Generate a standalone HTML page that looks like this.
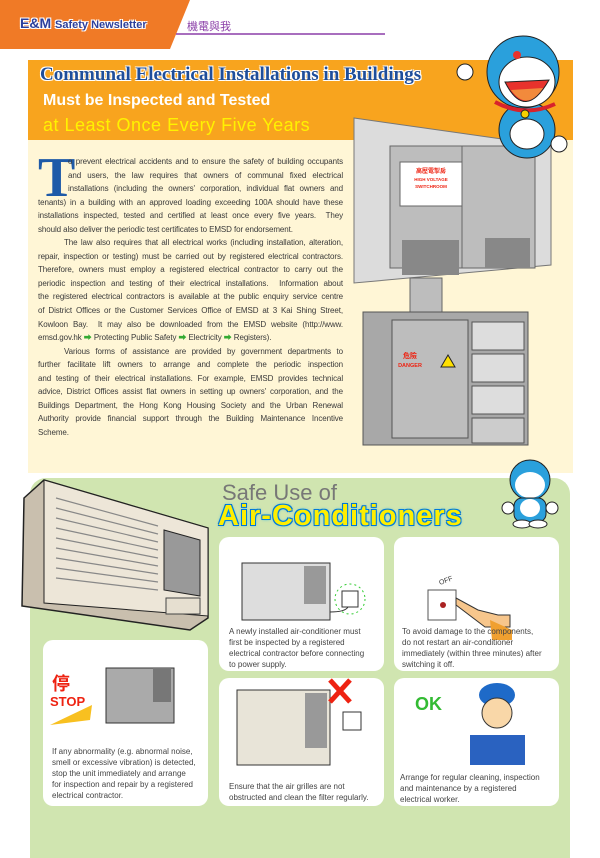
<!DOCTYPE html>
<html><head><meta charset="utf-8"><style>
*{margin:0;padding:0;box-sizing:border-box}
body{width:600px;height:849px;background:#fff;position:relative;overflow:hidden;font-family:"Liberation Sans","Noto Sans CJK TC",sans-serif}
.abs{position:absolute}
.txt{position:absolute;left:38px;top:155px;width:305px;font-size:8px;line-height:13.55px;color:#3a3a3a;letter-spacing:-0.1px}
.txt div{text-align:justify;text-align-last:justify;white-space:nowrap;overflow:visible}
.txt div.l{text-align-last:left}
.card{position:absolute;background:#fff;border-radius:10px}
.cap{position:absolute;font-size:8px;line-height:11px;color:#444}
</style></head><body>
<!-- header -->
<svg class="abs" style="left:0;top:0" width="600" height="50">
<polygon points="0,0 190,0 170,49 0,49" fill="#f07a26"/>
<line x1="176" y1="34" x2="385" y2="34" stroke="#8b3fa8" stroke-width="1.5"/>
</svg>
<div class="abs" style="left:20px;top:15px;font-size:14px;font-weight:bold;color:#2c3f9c;text-shadow:1px 1px 0 #fff,-1px -1px 0 #fff,1px -1px 0 #fff,-1px 1px 0 #fff">E&amp;M <span style="font-size:11px">Safety Newsletter</span></div>
<div class="abs" style="left:187px;top:18px;font-size:11px;color:#8b3fa8">機電與我</div>
<!-- cream area -->
<div class="abs" style="left:28px;top:60px;width:545px;height:413px;background:#fff6d6"></div>
<div class="abs" style="left:28px;top:60px;width:545px;height:80px;background:#f8a41e"></div>
<div class="abs" style="left:40px;top:64px;font-family:'Liberation Serif',serif;font-weight:bold;font-size:19px;color:#1f4e9a;text-shadow:1px 1px 0 #fff,-1px -1px 0 #fff,1px -1px 0 #fff,-1px 1px 0 #fff">Communal Electrical Installations in Buildings</div>
<div class="abs" style="left:43px;top:92px;font-weight:bold;font-size:16px;color:#fff">Must be Inspected and Tested</div>
<div class="abs" style="left:43px;top:115px;font-size:18px;color:#fff200;letter-spacing:0.5px">at Least Once Every Five Years</div>
<!-- switchroom illustration -->
<svg class="abs" style="left:350px;top:110px" width="230" height="345">
<polygon points="4,8 201,36 201,155 4,173" fill="#dcdcdc" stroke="#777"/>
<rect x="40" y="36" width="145" height="122" fill="#bdbdbd" stroke="#666"/>
<line x1="112" y1="36" x2="112" y2="158" stroke="#666"/>
<rect x="50" y="52" width="62" height="44" fill="#fff" stroke="#666"/>
<text x="81" y="63" font-size="6" fill="#e21" text-anchor="middle" font-weight="bold">高壓電掣房</text>
<text x="81" y="71" font-size="4.5" fill="#e21" text-anchor="middle" font-weight="bold">HIGH VOLTAGE</text>
<text x="81" y="78" font-size="4.5" fill="#e21" text-anchor="middle" font-weight="bold">SWITCHROOM</text>
<rect x="52" y="130" width="57" height="35" fill="#888"/>
<rect x="135" y="128" width="45" height="30" fill="#888"/>
<rect x="60" y="168" width="32" height="34" fill="#bdbdbd" stroke="#666"/>
<rect x="13" y="202" width="165" height="133" fill="#a8a8a8" stroke="#555"/>
<rect x="42" y="210" width="76" height="118" fill="#bdbdbd" stroke="#555"/>
<rect x="122" y="212" width="52" height="28" fill="#ddd" stroke="#555"/>
<rect x="122" y="244" width="52" height="28" fill="#ddd" stroke="#555"/>
<rect x="122" y="276" width="52" height="28" fill="#ddd" stroke="#555"/>
<rect x="122" y="308" width="52" height="25" fill="#ccc" stroke="#555"/>
<text x="60" y="248" font-size="7" fill="#e21" text-anchor="middle" font-weight="bold">危險</text>
<text x="60" y="257" font-size="5.5" fill="#e21" text-anchor="middle" font-weight="bold">DANGER</text>
<polygon points="98,245 105,257 91,257" fill="#ffe000" stroke="#222"/>
</svg>
<!-- doraemon top -->
<svg class="abs" style="left:455px;top:30px" width="120" height="130">
<ellipse cx="72" cy="100" rx="28" ry="28" fill="#2aa0dc" stroke="#222"/>
<ellipse cx="72" cy="104" rx="17" ry="15" fill="#fff" stroke="#222"/>
<circle cx="68" cy="42" r="36" fill="#2aa0dc" stroke="#222"/>
<ellipse cx="72" cy="52" rx="28" ry="25" fill="#fff" stroke="#222"/>
<path d="M50 52 Q70 92 94 50 Z" fill="#e8322c" stroke="#222"/>
<path d="M56 60 Q72 82 88 58 Z" fill="#f28a3c"/>
<circle cx="62" cy="25" r="4" fill="#e8322c"/>
<path d="M40 72 Q70 88 100 74" stroke="#d8222c" stroke-width="4" fill="none"/>
<circle cx="70" cy="84" r="4" fill="#f5d000" stroke="#222"/>
<circle cx="10" cy="42" r="8" fill="#fff" stroke="#222"/>
<circle cx="104" cy="114" r="8" fill="#fff" stroke="#222"/>
</svg>
<!-- body text -->
<div class="abs" style="left:38px;top:157px;width:24px;height:41px;font-family:'Liberation Serif',serif;font-size:56px;line-height:42px;color:#1e5aa8;font-weight:bold">T</div>
<div class="txt">
<div style="padding-left:30px">o prevent electrical accidents and to ensure the safety of building occupants</div>
<div style="padding-left:30px">and users, the law requires that owners of communal fixed electrical</div>
<div style="padding-left:30px">installations (including the owners' corporation, individual flat owners and</div>
<div>tenants) in a building with an approved loading exceeding 100A should have these</div>
<div>installations inspected, tested and certified at least once every five years.&nbsp; They</div>
<div class="l">should also deliver the periodic test certificates to EMSD for endorsement.</div>
<div style="padding-left:26px">The law also requires that all electrical works (including installation, alteration,</div>
<div>repair, inspection or testing) must be carried out by registered electrical contractors.</div>
<div>Therefore, owners must employ a registered electrical contractor to carry out the</div>
<div>periodic inspection and testing of their electrical installations.&nbsp; Information about</div>
<div>the registered electrical contractors is available at the public enquiry service centre</div>
<div>of District Offices or the Customer Services Office of EMSD at 3 Kai Shing Street,</div>
<div>Kowloon Bay.&nbsp; It may also be downloaded from the EMSD website (http://www.</div>
<div class="l">emsd.gov.hk <span style="color:#3a3">➡</span> Protecting Public Safety <span style="color:#3a3">➡</span> Electricity <span style="color:#3a3">➡</span> Registers).</div>
<div style="padding-left:26px">Various forms of assistance are provided by government departments to</div>
<div>further facilitate lift owners to arrange and complete the periodic inspection</div>
<div>and testing of their electrical installations. For example, EMSD provides technical</div>
<div>advice, District Offices assist flat owners in setting up owners' corporation, and the</div>
<div>Buildings Department, the Hong Kong Housing Society and the Urban Renewal</div>
<div>Authority provide financial support through the Building Maintenance Incentive</div>
<div class="l">Scheme.</div>
</div>
<!-- green area -->
<div class="abs" style="left:30px;top:478px;width:540px;height:380px;background:#d0e5b0;border-radius:16px 16px 0 0"></div>
<!-- big AC -->
<svg class="abs" style="left:18px;top:468px" width="200" height="165">
<polygon points="6,30 26,12 190,60 190,150 172,162 4,138" fill="#c9bfae" stroke="#222" stroke-width="1.5"/>
<polygon points="26,12 190,60 190,148 26,135" fill="#ede6d8" stroke="#222"/>
<g stroke="#888" stroke-width="1.2">
<line x1="38" y1="30" x2="140" y2="58"/><line x1="38" y1="40" x2="140" y2="66"/><line x1="38" y1="50" x2="140" y2="74"/><line x1="38" y1="60" x2="140" y2="82"/><line x1="38" y1="70" x2="140" y2="90"/><line x1="38" y1="80" x2="140" y2="98"/><line x1="38" y1="90" x2="140" y2="106"/><line x1="38" y1="100" x2="140" y2="114"/><line x1="38" y1="110" x2="140" y2="122"/></g>
<polygon points="146,62 182,72 182,128 146,122" fill="#999" stroke="#222"/>
<rect x="148" y="130" width="34" height="16" fill="#e6dfd0" stroke="#444"/>
</svg>
<div class="abs" style="left:222px;top:480px;font-size:22px;color:#777">Safe Use of</div>
<div class="abs" style="left:218px;top:500px;font-size:29px;font-weight:bold;color:#ffee00;letter-spacing:1px;text-shadow:0 0 3px #0af,1px 1px 0 #06c,-1px -1px 0 #06c,1px -1px 0 #06c,-1px 1px 0 #06c">Air-Conditioners</div>
<!-- small doraemon -->
<svg class="abs" style="left:500px;top:458px" width="60" height="72">
<circle cx="30" cy="22" r="20" fill="#2aa0dc" stroke="#222"/>
<ellipse cx="30" cy="27" rx="15" ry="13" fill="#fff"/>
<rect x="14" y="40" width="32" height="24" rx="8" fill="#2aa0dc" stroke="#222"/>
<ellipse cx="30" cy="50" rx="10" ry="9" fill="#fff"/>
<circle cx="8" cy="50" r="6" fill="#fff" stroke="#222"/><circle cx="52" cy="50" r="6" fill="#fff" stroke="#222"/>
<ellipse cx="22" cy="66" rx="9" ry="4" fill="#fff" stroke="#222"/><ellipse cx="38" cy="66" rx="9" ry="4" fill="#fff" stroke="#222"/>
</svg>
<!-- cards -->
<div class="card" style="left:219px;top:537px;width:165px;height:134px"></div>
<div class="card" style="left:394px;top:537px;width:165px;height:134px"></div>
<div class="card" style="left:43px;top:640px;width:165px;height:166px"></div>
<div class="card" style="left:219px;top:678px;width:165px;height:128px"></div>
<div class="card" style="left:394px;top:678px;width:165px;height:128px"></div>
<svg class="abs" style="left:0;top:0" width="600" height="849">
<rect x="242" y="563" width="88" height="57" fill="#ddd" stroke="#333"/><rect x="304" y="566" width="22" height="38" fill="#999"/>
<rect x="342" y="591" width="16" height="16" fill="#fff" stroke="#333"/><circle cx="350" cy="599" r="15" fill="none" stroke="#3c3" stroke-dasharray="2 3"/>
<path d="M330 612 Q345 612 348 607" stroke="#333" fill="none"/>
<text x="440" y="585" font-size="7" fill="#333" transform="rotate(-20 440 585)">OFF</text>
<rect x="428" y="590" width="28" height="30" fill="#fff" stroke="#555"/><circle cx="443" cy="605" r="3" fill="#a22"/>
<path d="M456 598 l22 12 l20 5 l12 0 l0 12 l-25 0 l-29 -22 z" fill="#f7c68c" stroke="#333"/>
<path d="M490 620 l22 10 v10 h-20z" fill="#f0a030"/>
<rect x="106" y="668" width="68" height="55" fill="#aaa" stroke="#333"/><rect x="153" y="668" width="18" height="34" fill="#777"/>
<text x="52" y="690" font-size="18" fill="#e21" font-weight="bold">停</text>
<text x="50" y="706" font-size="13" fill="#e21" font-weight="bold">STOP</text>
<polygon points="50,725 92,705 90,720" fill="#f8c020"/>
<rect x="237" y="690" width="93" height="75" fill="#e8e4d8" stroke="#333"/><rect x="305" y="693" width="22" height="55" fill="#999"/>
<rect x="343" y="712" width="18" height="18" fill="#fff" stroke="#333"/>
<path d="M330 680 l20 22 M350 680 l-20 22" stroke="#e21" stroke-width="5"/>
<text x="415" y="710" font-size="18" fill="#3b3" font-weight="bold">OK</text>
<ellipse cx="497" cy="695" rx="18" ry="12" fill="#1e6ac8"/>
<circle cx="497" cy="713" r="15" fill="#f9d7a8" stroke="#333"/>
<path d="M470 735 h55 v30 h-55z" fill="#2a62c0"/>
</svg>
<div class="cap" style="left:229px;top:626px">A newly installed air-conditioner must<br>first be inspected by a registered<br>electrical contractor before connecting<br>to power supply.</div>
<div class="cap" style="left:402px;top:626px">To avoid damage to the components,<br>do not restart an air-conditioner<br>immediately (within three minutes) after<br>switching it off.</div>
<div class="cap" style="left:52px;top:746px">If any abnormality (e.g. abnormal noise,<br>smell or excessive vibration) is detected,<br>stop the unit immediately and arrange<br>for inspection and repair by a registered<br>electrical contractor.</div>
<div class="cap" style="left:229px;top:781px">Ensure that the air grilles are not<br>obstructed and clean the filter regularly.</div>
<div class="cap" style="left:400px;top:772px">Arrange for regular cleaning, inspection<br>and maintenance by a registered<br>electrical worker.</div>
</body></html>
